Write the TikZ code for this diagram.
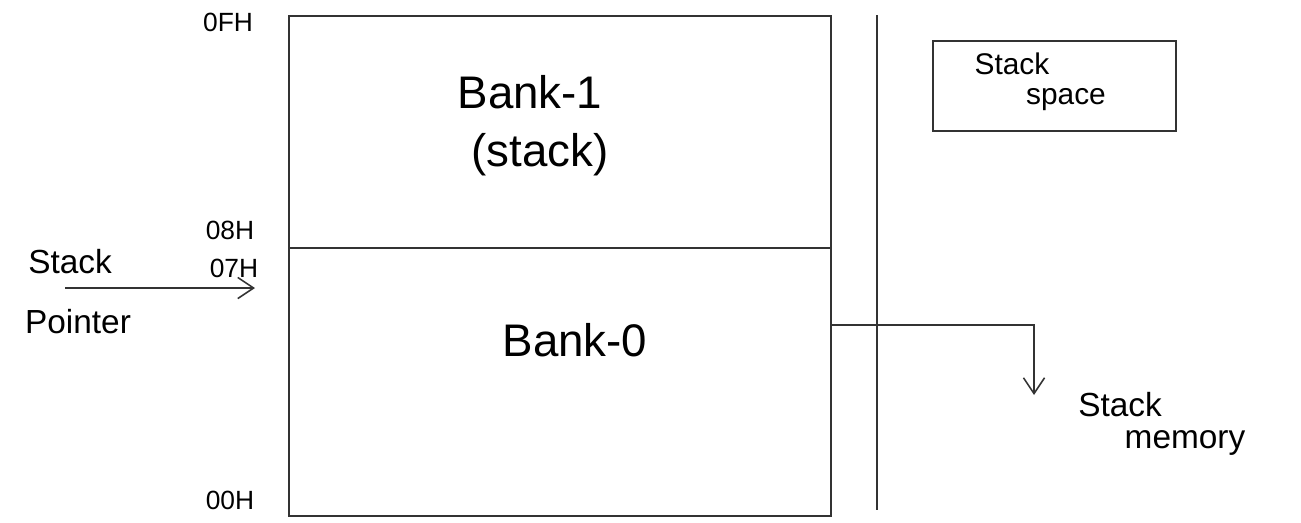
\documentclass[tikz,border=0pt]{standalone}
\usepackage{fontspec}
\setmainfont{Liberation Sans}
\usetikzlibrary{arrows.meta}
\begin{document}
\begin{tikzpicture}[x=0.02cm,y=-0.02cm,
  line/.style={draw=black!80,line width=0.9pt},
  addr/.style={font=\fontsize{15}{17}\selectfont,inner sep=0pt},
  bigtxt/.style={font=\fontsize{26}{30}\selectfont,inner sep=0pt},
  midtxt/.style={font=\fontsize{19}{22}\selectfont,inner sep=0pt},
  legtxt/.style={font=\fontsize{17}{20}\selectfont,inner sep=0pt},
  bankbox/.style={line,rectangle,minimum width=542*0.02cm,inner sep=0pt},
  tip/.style={-{Straight Barb[length=9pt,width=12pt,line width=0.9pt]}}]
\useasboundingbox (0,0) rectangle (1301,522);
% memory banks
\node[bankbox,minimum height=232*0.02cm,anchor=north west] (bank1) at (288,15) {};
\node[bankbox,minimum height=268*0.02cm,anchor=north west] (bank0) at (288,247) {};
\node[bigtxt] (b1) at (530,92) {Bank-1};
\node[bigtxt] (b1s) at (540,155) {(stack)};
\node[bigtxt] (b0) at (575,340) {Bank-0};
% addresses
\node[addr] (a0f) at (228,22) {0FH};
\node[addr] (a08) at (230,230) {08H};
\node[addr] (a07) at (234,268) {07H};
\node[addr] (a00) at (230,500) {00H};
% stack pointer
\node[midtxt] (sp1) at (70,262) {Stack};
\node[midtxt] (sp2) at (78,322) {Pointer};
\coordinate (spfrom) at (65,288);
\coordinate (spto) at (255,288);
\draw[line,tip] (spfrom) -- (spto);
% separator
\coordinate (sepT) at (877,15);
\coordinate (sepB) at (877,510);
\draw[line] (sepT) -- (sepB);
% stack space legend
\node[line,rectangle,minimum width=243*0.02cm,minimum height=90*0.02cm,anchor=north west,inner sep=0pt] (legend) at (932,40) {};
\node[legtxt] (ls1) at (1012,64) {Stack};
\node[legtxt] (ls2) at (1066,100) {space};
% stack memory
\coordinate (tap) at (830,325);
\coordinate (bend) at (1034,325);
\coordinate (drop) at (1034,395);
\draw[line,tip] (tap) -- (bend) -- (drop);
\node[midtxt] (sm1) at (1120,405) {Stack};
\node[midtxt] (sm2) at (1185,443) {memory};
\end{tikzpicture}
\end{document}
